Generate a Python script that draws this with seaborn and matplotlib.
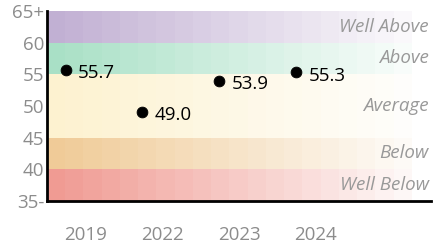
import numpy as np
import pandas as pd
import matplotlib
matplotlib.use("Agg")
import matplotlib.pyplot as plt
import seaborn as sns
from matplotlib.colors import to_rgb

years = ["2019", "2022", "2023", "2024"]
scores = [55.7, 49.0, 53.9, 55.3]

band_names = ["Well Below", "Below", "Average", "Above", "Well Above"]
band_lo = [35, 40, 45, 55, 60]
band_hi = [40, 45, 55, 60, 65]
band_colors = ["#f09b93", "#f0cb98", "#fdf2d0", "#a9e0c6", "#c1b0d3"]

ytick_vals = [35, 40, 45, 50, 55, 60, 65]
ytick_labels = ["35-", "40", "45", "50", "55", "60", "65+"]

sns.set_style("white")
plt.rcParams["font.family"] = ["Open Sans", "DejaVu Sans"]

fig = plt.figure(figsize=(4.36, 2.45), dpi=100)
ax = fig.add_axes([0.108, 0.180, 0.881, 0.775])

# 背景色带，从左到右渐变成白色
n_steps = 20
fade = np.linspace(1.0, 0.08, n_steps)
for lo, hi, col in zip(band_lo, band_hi, band_colors):
    rgb = np.array(to_rgb(col))
    img = np.ones((1, n_steps, 3)) * rgb
    img = img * fade[None, :, None] + (1 - fade[None, :, None])
    ax.imshow(img, extent=[-0.5, 4.25, lo, hi], aspect="auto",
              interpolation="nearest", zorder=0)

df = pd.DataFrame({"pos": np.arange(len(years)) - 0.26, "score": scores})
sns.scatterplot(data=df, x="pos", y="score", color="black", s=60,
                edgecolor="black", zorder=3, ax=ax, legend=False)
for x, y in zip(df["pos"], df["score"]):
    ax.text(x + 0.16, y - 0.5, f"{y:.1f}", ha="left", va="center",
            fontsize=13.5, color="black", zorder=4)

for lo, hi, name in zip(band_lo, band_hi, band_names):
    ax.text(4.47, (lo + hi) / 2, name, ha="right", va="center",
            fontsize=13.5, style="italic", color="#999999", zorder=4)

ax.set_xlim(-0.5, 4.5)
ax.set_ylim(35, 65)
ax.set_xticks(range(len(years)))
ax.set_xticklabels(years)
ax.set_yticks(ytick_vals)
ax.set_yticklabels(ytick_labels)
ax.tick_params(axis="both", length=0, labelsize=13.5, colors="#8c8c8c")
ax.tick_params(axis="x", pad=18)
ax.tick_params(axis="y", pad=2)
ax.set_xlabel("")
ax.set_ylabel("")

for side in ["top", "right"]:
    ax.spines[side].set_visible(False)
ax.spines["left"].set_linewidth(2)
ax.spines["bottom"].set_linewidth(2)
ax.spines["left"].set_color("black")
ax.spines["bottom"].set_color("black")

fig.savefig("out.png", dpi=100)
